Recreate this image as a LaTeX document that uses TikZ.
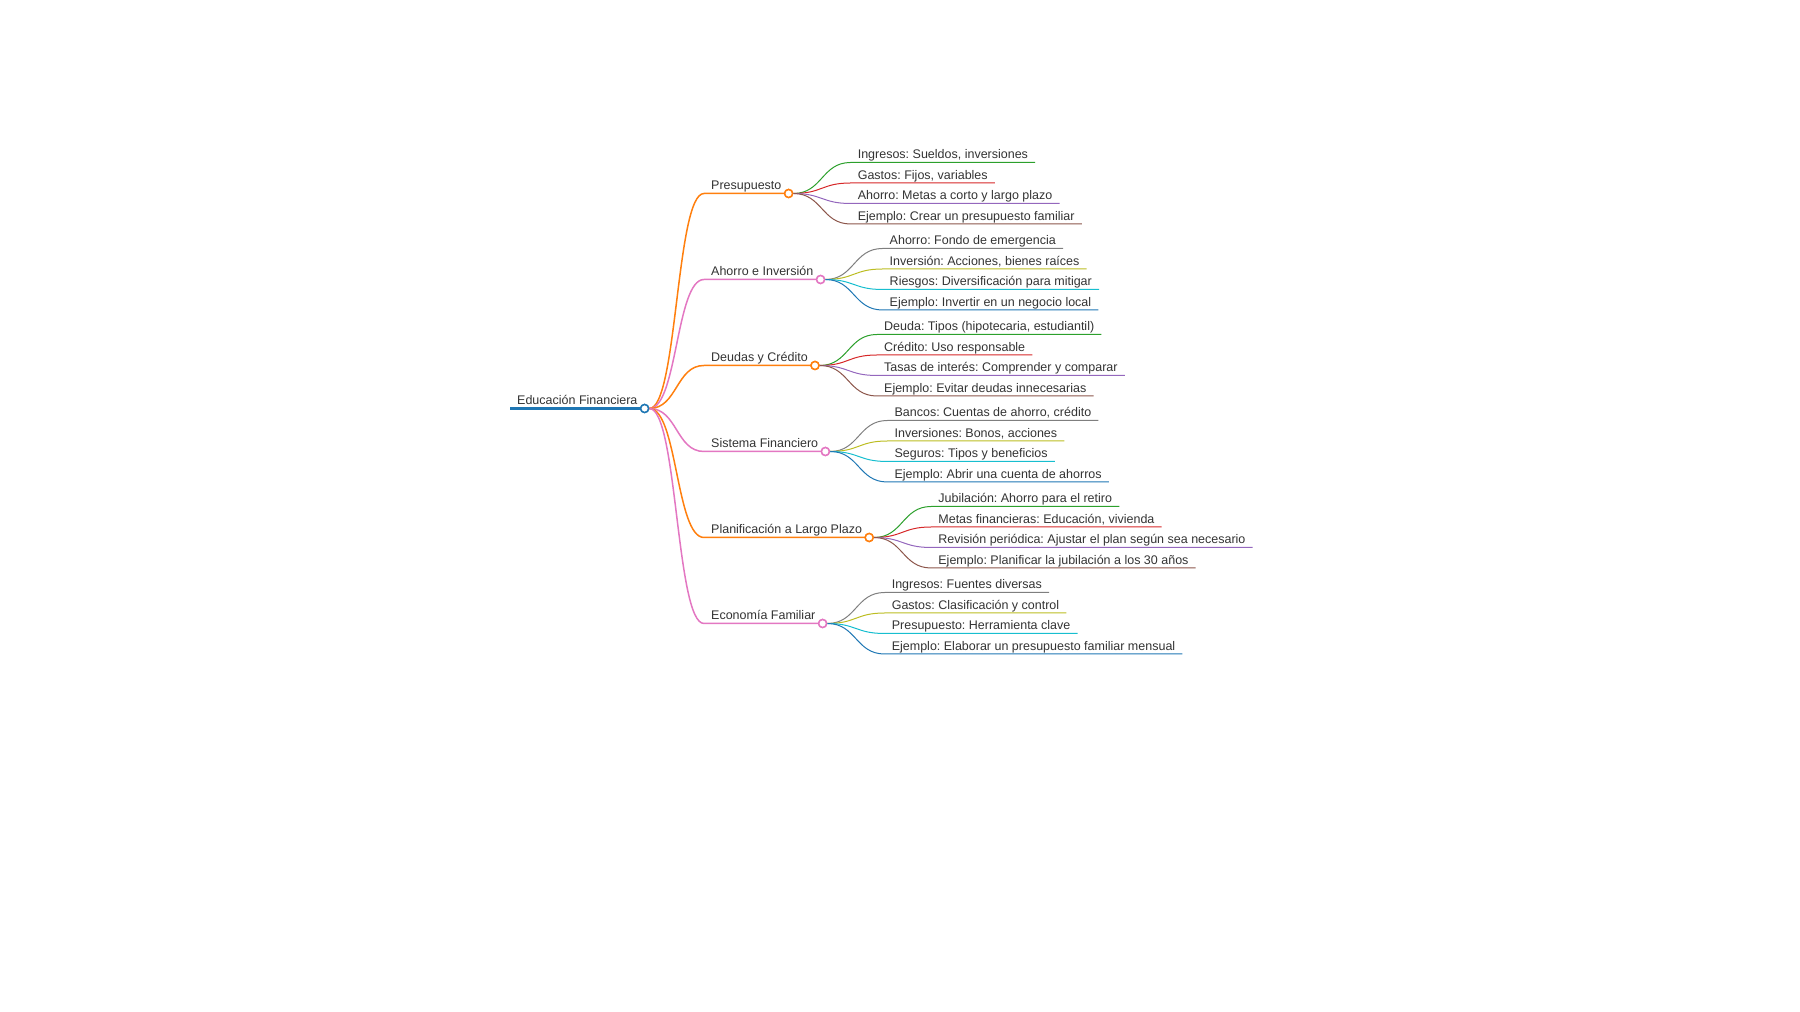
\documentclass[tikz,border=0pt]{standalone}
\usepackage{fontspec}
\setmainfont{Liberation Sans}
\usepackage{xcolor}
\frenchspacing
\definecolor{txt}{HTML}{333333}
\definecolor{cblue}{HTML}{1F77B4}
\definecolor{corange}{HTML}{FF7F0E}
\definecolor{cgreen}{HTML}{2CA02C}
\definecolor{cred}{HTML}{D62728}
\definecolor{cpurple}{HTML}{9467BD}
\definecolor{cbrown}{HTML}{8C564B}
\definecolor{cpink}{HTML}{E377C2}
\definecolor{cgray}{HTML}{7F7F7F}
\definecolor{colive}{HTML}{BCBD22}
\definecolor{ccyan}{HTML}{17BECF}

\begin{document}
\begin{tikzpicture}[
    x=1pt, y=1pt,
    lbl/.style={font=\fontsize{12.5}{15}\selectfont, text=txt, text depth=0pt, inner xsep=7pt, inner ysep=3.7pt, anchor=south west},
    root/.style={lbl, inner ysep=3.5pt},
    branch/.style={lbl, inner ysep=4pt},
    leaf/.style={lbl},
    dot/.style={circle, draw, fill=white, line width=1.5pt, inner sep=0pt, minimum size=8pt},
    rline/.style={line width=2.2pt},
    bline/.style={line width=1.5pt},
    lline/.style={line width=1pt}
]
    \useasboundingbox (0,0) rectangle (1800,1012);

    \node[root] (edu) at (510,603.5) {Educación Financiera};
    \draw[rline, cblue] (edu.south west) -- (edu.south east);
    \node[dot, draw=cblue] (edudot) at (edu.south east) {};

    \node[branch] (pre) at (704,818.5) {Presupuesto};
    \node[branch] (aho) at (704,732.5) {Ahorro e Inversión};
    \node[branch] (deu) at (704,646.5) {Deudas y Crédito};
    \node[branch] (sis) at (704,560.5) {Sistema Financiero};
    \node[branch] (pla) at (704,474.5) {Planificación a Largo Plazo};
    \node[branch] (eco) at (704,388.5) {Economía Familiar};

    \draw[bline, corange] (edudot.east) .. controls +(28,0) and +(-28,0) .. (pre.south west) -- (pre.south east);
    \draw[bline, cpink] (edudot.east) .. controls +(28,0) and +(-28,0) .. (aho.south west) -- (aho.south east);
    \draw[bline, corange] (edudot.east) .. controls +(28,0) and +(-28,0) .. (deu.south west) -- (deu.south east);
    \draw[bline, cpink] (edudot.east) .. controls +(28,0) and +(-28,0) .. (sis.south west) -- (sis.south east);
    \draw[bline, corange] (edudot.east) .. controls +(28,0) and +(-28,0) .. (pla.south west) -- (pla.south east);
    \draw[bline, cpink] (edudot.east) .. controls +(28,0) and +(-28,0) .. (eco.south west) -- (eco.south east);

    \node[dot, draw=corange] (predot) at (pre.south east) {};
    \node[dot, draw=cpink] (ahodot) at (aho.south east) {};
    \node[dot, draw=corange] (deudot) at (deu.south east) {};
    \node[dot, draw=cpink] (sisdot) at (sis.south east) {};
    \node[dot, draw=corange] (pladot) at (pla.south east) {};
    \node[dot, draw=cpink] (ecodot) at (eco.south east) {};
    \node[dot, draw=cblue] at (edu.south east) {};

    \node[leaf] (pre1) at ([shift={(62,31)}]predot.center) {Ingresos: Sueldos, inversiones};
    \node[leaf] (pre2) at ([shift={(62,10.5)}]predot.center) {Gastos: Fijos, variables};
    \node[leaf] (pre3) at ([shift={(62,-10)}]predot.center) {Ahorro: Metas a corto y largo plazo};
    \node[leaf] (pre4) at ([shift={(62,-30.5)}]predot.center) {Ejemplo: Crear un presupuesto familiar};
    \draw[lline, cgreen] (predot.east) .. controls +(29,0) and +(-29,0) .. (pre1.south west) -- (pre1.south east);
    \draw[lline, cred] (predot.east) .. controls +(29,0) and +(-29,0) .. (pre2.south west) -- (pre2.south east);
    \draw[lline, cpurple] (predot.east) .. controls +(29,0) and +(-29,0) .. (pre3.south west) -- (pre3.south east);
    \draw[lline, cbrown] (predot.east) .. controls +(29,0) and +(-29,0) .. (pre4.south west) -- (pre4.south east);

    \node[leaf] (aho1) at ([shift={(62,31)}]ahodot.center) {Ahorro: Fondo de emergencia};
    \node[leaf] (aho2) at ([shift={(62,10.5)}]ahodot.center) {Inversión: Acciones, bienes raíces};
    \node[leaf] (aho3) at ([shift={(62,-10)}]ahodot.center) {Riesgos: Diversificación para mitigar};
    \node[leaf] (aho4) at ([shift={(62,-30.5)}]ahodot.center) {Ejemplo: Invertir en un negocio local};
    \draw[lline, cgray] (ahodot.east) .. controls +(29,0) and +(-29,0) .. (aho1.south west) -- (aho1.south east);
    \draw[lline, colive] (ahodot.east) .. controls +(29,0) and +(-29,0) .. (aho2.south west) -- (aho2.south east);
    \draw[lline, ccyan] (ahodot.east) .. controls +(29,0) and +(-29,0) .. (aho3.south west) -- (aho3.south east);
    \draw[lline, cblue] (ahodot.east) .. controls +(29,0) and +(-29,0) .. (aho4.south west) -- (aho4.south east);

    \node[leaf] (deu1) at ([shift={(62,31)}]deudot.center) {Deuda: Tipos (hipotecaria, estudiantil)};
    \node[leaf] (deu2) at ([shift={(62,10.5)}]deudot.center) {Crédito: Uso responsable};
    \node[leaf] (deu3) at ([shift={(62,-10)}]deudot.center) {Tasas de interés: Comprender y comparar};
    \node[leaf] (deu4) at ([shift={(62,-30.5)}]deudot.center) {Ejemplo: Evitar deudas innecesarias};
    \draw[lline, cgreen] (deudot.east) .. controls +(29,0) and +(-29,0) .. (deu1.south west) -- (deu1.south east);
    \draw[lline, cred] (deudot.east) .. controls +(29,0) and +(-29,0) .. (deu2.south west) -- (deu2.south east);
    \draw[lline, cpurple] (deudot.east) .. controls +(29,0) and +(-29,0) .. (deu3.south west) -- (deu3.south east);
    \draw[lline, cbrown] (deudot.east) .. controls +(29,0) and +(-29,0) .. (deu4.south west) -- (deu4.south east);

    \node[leaf] (sis1) at ([shift={(62,31)}]sisdot.center) {Bancos: Cuentas de ahorro, crédito};
    \node[leaf] (sis2) at ([shift={(62,10.5)}]sisdot.center) {Inversiones: Bonos, acciones};
    \node[leaf] (sis3) at ([shift={(62,-10)}]sisdot.center) {Seguros: Tipos y beneficios};
    \node[leaf] (sis4) at ([shift={(62,-30.5)}]sisdot.center) {Ejemplo: Abrir una cuenta de ahorros};
    \draw[lline, cgray] (sisdot.east) .. controls +(29,0) and +(-29,0) .. (sis1.south west) -- (sis1.south east);
    \draw[lline, colive] (sisdot.east) .. controls +(29,0) and +(-29,0) .. (sis2.south west) -- (sis2.south east);
    \draw[lline, ccyan] (sisdot.east) .. controls +(29,0) and +(-29,0) .. (sis3.south west) -- (sis3.south east);
    \draw[lline, cblue] (sisdot.east) .. controls +(29,0) and +(-29,0) .. (sis4.south west) -- (sis4.south east);

    \node[leaf] (pla1) at ([shift={(62,31)}]pladot.center) {Jubilación: Ahorro para el retiro};
    \node[leaf] (pla2) at ([shift={(62,10.5)}]pladot.center) {Metas financieras: Educación, vivienda};
    \node[leaf] (pla3) at ([shift={(62,-10)}]pladot.center) {Revisión periódica: Ajustar el plan según sea necesario};
    \node[leaf] (pla4) at ([shift={(62,-30.5)}]pladot.center) {Ejemplo: Planificar la jubilación a los 30 años};
    \draw[lline, cgreen] (pladot.east) .. controls +(29,0) and +(-29,0) .. (pla1.south west) -- (pla1.south east);
    \draw[lline, cred] (pladot.east) .. controls +(29,0) and +(-29,0) .. (pla2.south west) -- (pla2.south east);
    \draw[lline, cpurple] (pladot.east) .. controls +(29,0) and +(-29,0) .. (pla3.south west) -- (pla3.south east);
    \draw[lline, cbrown] (pladot.east) .. controls +(29,0) and +(-29,0) .. (pla4.south west) -- (pla4.south east);

    \node[leaf] (eco1) at ([shift={(62,31)}]ecodot.center) {Ingresos: Fuentes diversas};
    \node[leaf] (eco2) at ([shift={(62,10.5)}]ecodot.center) {Gastos: Clasificación y control};
    \node[leaf] (eco3) at ([shift={(62,-10)}]ecodot.center) {Presupuesto: Herramienta clave};
    \node[leaf] (eco4) at ([shift={(62,-30.5)}]ecodot.center) {Ejemplo: Elaborar un presupuesto familiar mensual};
    \draw[lline, cgray] (ecodot.east) .. controls +(29,0) and +(-29,0) .. (eco1.south west) -- (eco1.south east);
    \draw[lline, colive] (ecodot.east) .. controls +(29,0) and +(-29,0) .. (eco2.south west) -- (eco2.south east);
    \draw[lline, ccyan] (ecodot.east) .. controls +(29,0) and +(-29,0) .. (eco3.south west) -- (eco3.south east);
    \draw[lline, cblue] (ecodot.east) .. controls +(29,0) and +(-29,0) .. (eco4.south west) -- (eco4.south east);

    \node[dot, draw=corange] at (pre.south east) {};
    \node[dot, draw=cpink] at (aho.south east) {};
    \node[dot, draw=corange] at (deu.south east) {};
    \node[dot, draw=cpink] at (sis.south east) {};
    \node[dot, draw=corange] at (pla.south east) {};
    \node[dot, draw=cpink] at (eco.south east) {};
\end{tikzpicture}
\end{document}
